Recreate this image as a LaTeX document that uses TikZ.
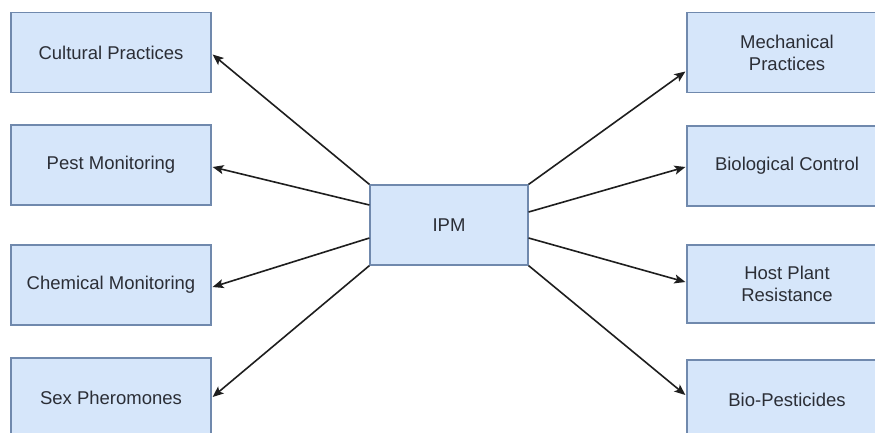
\documentclass[tikz,border=0pt]{standalone}
\usepackage{fontspec}
\setmainfont{Liberation Sans}
\usetikzlibrary{arrows.meta,calc}
\definecolor{boxfill}{HTML}{D6E6FA}
\definecolor{boxline}{HTML}{7089AD}
\definecolor{txt}{HTML}{2B2E36}
\definecolor{arr}{HTML}{1E1E1E}
\tikzset{
  pbox/.style={draw=boxline, line width=1.2pt, fill=boxfill, rectangle, inner sep=0pt,
    minimum width=200pt, minimum height=80pt, align=center, text=txt,
    font=\fontsize{18.5}{22}\selectfont},
  ipmbox/.style={pbox, minimum width=158pt, minimum height=80pt},
  link/.style={draw=arr, line width=1.6pt, -{Stealth[length=11pt,width=9pt,inset=2.5pt]}}
}
\begin{document}
\begin{tikzpicture}[x=1pt,y=-1pt]
\clip (0,0) rectangle (875,432);
\fill[white] (0,0) rectangle (875,432);
\node[pbox] (cult) at (111,52.5) {Cultural Practices};
\node[pbox] (pest) at (111,165) {Pest Monitoring};
\node[pbox] (chem) at (111,285) {Chemical Monitoring};
\node[pbox] (sex) at (111,398) {Sex Pheromones};
\node[pbox] (mech) at (787,52.5) {Mechanical\\Practices};
\node[pbox] (bio) at (787,166) {Biological Control};
\node[pbox, minimum height=78pt] (host) at (787,284) {Host Plant\\Resistance};
\node[pbox] (pesti) at (787,400) {Bio-Pesticides};
\node[ipmbox] (ipm) at (449,225) {IPM};

\coordinate (s2) at ($(ipm.west)+(0,-20)$);
\coordinate (s3) at ($(ipm.west)+(0,13)$);
\coordinate (s6) at ($(ipm.east)+(0,-13)$);
\coordinate (s7) at ($(ipm.east)+(0,13)$);
\coordinate (t5) at ($(mech.west)+(0,19)$);

\draw[link] (ipm.north west) -- ($(cult.east)+(1,2)$);
\draw[link] (s2) -- ($(pest.east)+(1,2)$);
\draw[link] (s3) -- ($(chem.east)+(1,2)$);
\draw[link] (ipm.south west) -- ($(sex.east)+(1,-1)$);
\draw[link] (ipm.north east) -- ($(t5)+(-1,0)$);
\draw[link] (s6) -- ($(bio.west)+(-1,1)$);
\draw[link] (s7) -- ($(host.west)+(-1,-2)$);
\draw[link] (ipm.south east) -- ($(pesti.west)+(-1,-5)$);
\end{tikzpicture}
\end{document}
